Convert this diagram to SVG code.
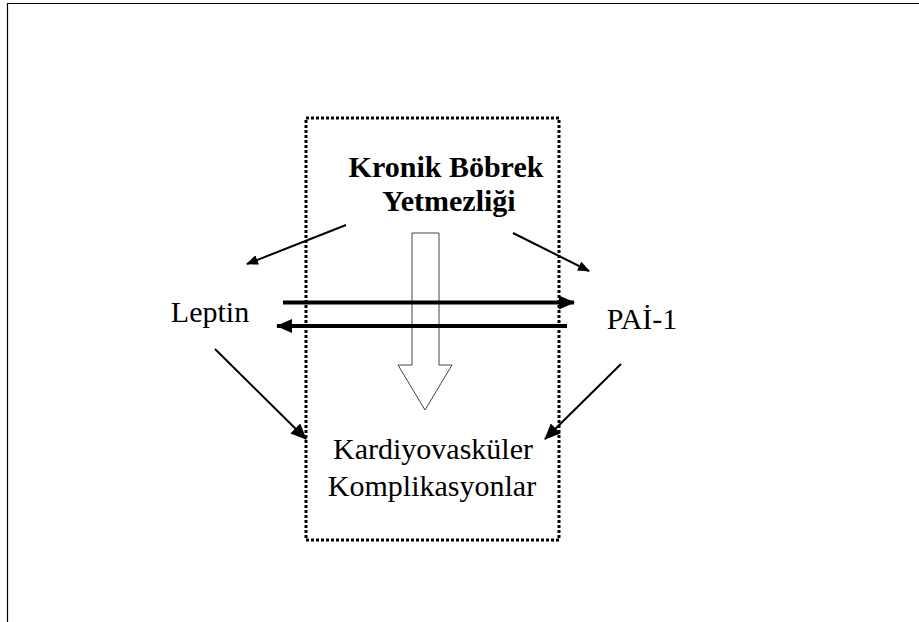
<svg xmlns="http://www.w3.org/2000/svg" width="919" height="622" viewBox="0 0 919 622">
<style>
.t{font-family:"Liberation Serif","Times New Roman",serif;font-size:30px;fill:#000;text-anchor:middle}
.b{font-weight:bold}
.thin{stroke:#000;stroke-width:2;fill:none}
.thick{stroke:#000;stroke-width:4;fill:none}
</style>
<defs>
<marker id="ah" viewBox="0 0 12 10" refX="11" refY="5" markerWidth="12" markerHeight="10" markerUnits="userSpaceOnUse" orient="auto">
<path d="M0,0 L12,5 L0,10 Z" fill="#000"/>
</marker>
<marker id="ahb" viewBox="0 0 16 14" refX="15" refY="7" markerWidth="16" markerHeight="14" markerUnits="userSpaceOnUse" orient="auto">
<path d="M0,0 L16,7 L0,14 Z" fill="#000"/>
</marker>
</defs>
<rect width="919" height="622" fill="#fff"/>
<path d="M7.5,622 V3.5 H919" fill="none" stroke="#000" stroke-width="1.2"/>
<g id="box">
<rect x="306" y="118" width="253" height="422" fill="none" stroke="#000" stroke-width="3" stroke-dasharray="3 2"/>
</g>
<g id="kby">
<text class="t b" x="446" y="177">Kronik Böbrek</text>
<text class="t b" x="449" y="211">Yetmezliği</text>
</g>
<g id="leptin">
<text class="t" x="210" y="322">Leptin</text>
</g>
<g id="pai">
<text class="t" x="642" y="329">PAİ-1</text>
</g>
<g id="kardiyo">
<text class="t" x="433" y="459">Kardiyovasküler</text>
<text class="t" x="432" y="496">Komplikasyonlar</text>
</g>
<g id="connectors">
<path d="M412,233 H439 V365 H452 L425,410 L398,365 H412 Z" fill="#fff" stroke="#444" stroke-width="1"/>
<line class="thin" x1="346" y1="225" x2="247" y2="264" marker-end="url(#ah)"/>
<line class="thin" x1="513" y1="233" x2="589" y2="271" marker-end="url(#ah)"/>
<line class="thin" x1="215" y1="349" x2="306" y2="439" marker-end="url(#ahb)"/>
<line class="thin" x1="621" y1="364" x2="545" y2="439" marker-end="url(#ahb)"/>
<line class="thick" x1="283" y1="302.5" x2="574" y2="302.5" marker-end="url(#ahb)"/>
<line class="thick" x1="567" y1="326" x2="277" y2="326" marker-end="url(#ahb)"/>
</g>
</svg>
